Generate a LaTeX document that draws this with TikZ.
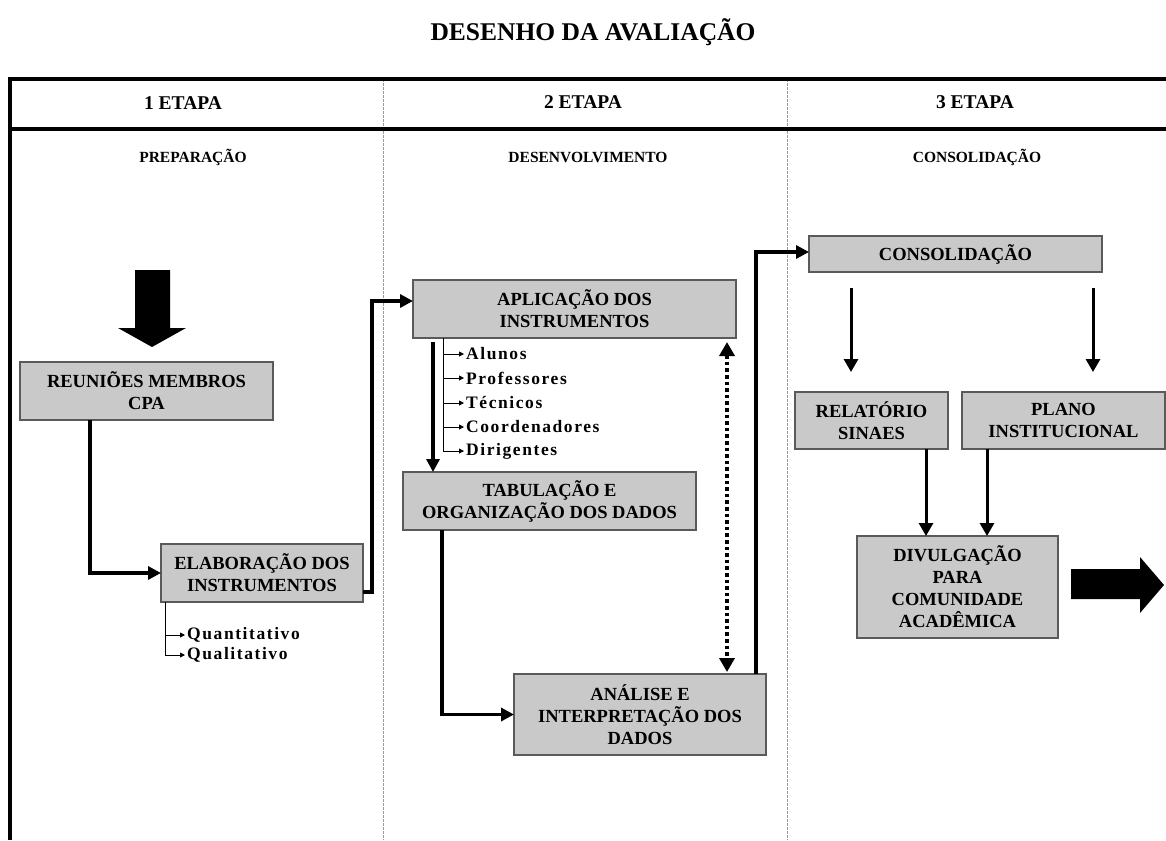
\documentclass[tikz,border=0pt]{standalone}
\usepackage{fontspec}
\setmainfont{Liberation Serif}
\newfontfamily\spacedserif[LetterSpace=9]{Liberation Serif}
\usetikzlibrary{arrows.meta}
\definecolor{boxfill}{HTML}{C9C9C9}
\definecolor{boxline}{HTML}{5A5A5A}
\definecolor{divline}{HTML}{9A9A9A}
\tikzset{
  procbox/.style={draw=boxline, line width=1.4pt, fill=boxfill, inner sep=0pt, outer sep=0pt, align=center,
    font=\fontsize{18.5}{22}\selectfont\bfseries},
  conn/.style={line width=3.8pt, -{Triangle[length=13pt,width=13pt]}},
  conn2/.style={line width=3pt, -{Triangle[length=13pt,width=14pt]}},
  subconn/.style={line width=0.9pt, -{Triangle[length=5pt,width=5pt]}},
  sublabel/.style={anchor=west, inner sep=0pt, font=\spacedserif\fontsize{17.5}{20}\selectfont\bfseries},
  headlabel/.style={font=\fontsize{19.5}{22}\selectfont\bfseries},
  phaselabel/.style={font=\fontsize{15.5}{18}\selectfont\bfseries},
  frame/.style={line width=3.6pt},
  divider/.style={line width=0.8pt, divline, dash pattern=on 3pt off 1pt},
}
\begin{document}
\begin{tikzpicture}[x=1pt,y=-1pt]
\useasboundingbox (0,0) rectangle (1166,840);

% title
\node[font=\fontsize{25.5}{28}\selectfont\bfseries] (title) at (593,32) {DESENHO DA AVALIAÇÃO};

% frame
\draw[divider] (383,79) -- (383,840);
\draw[divider] (787,79) -- (787,840);
\draw[frame] (1166,79) -- (10,79) -- (10,840);
\draw[frame] (10,129) -- (1166,129);

% headers
\node[headlabel] (h1) at (183,103) {1 ETAPA};
\node[headlabel] (h2) at (583,102) {2 ETAPA};
\node[headlabel] (h3) at (975,102) {3 ETAPA};
\node[phaselabel] (p1) at (193,157) {PREPARAÇÃO};
\node[phaselabel] (p2) at (588,157) {DESENVOLVIMENTO};
\node[phaselabel] (p3) at (977,157) {CONSOLIDAÇÃO};

% big down arrow
\fill (135,270) -- (170,270) -- (170,328) -- (186,328) -- (152,347) -- (118,328) -- (135,328) -- cycle;

% boxes
\node[procbox, minimum width=253pt, minimum height=58pt] (reu) at (146.5,391) {REUNIÕES MEMBROS\\CPA};
\node[procbox, minimum width=202pt, minimum height=58pt] (ela) at (262,573) {ELABORAÇÃO DOS\\INSTRUMENTOS};
\node[procbox, minimum width=323pt, minimum height=58pt] (apl) at (574.5,309) {APLICAÇÃO DOS\\INSTRUMENTOS};
\node[procbox, minimum width=293pt, minimum height=58pt] (tab) at (549.5,501) {TABULAÇÃO E\\ORGANIZAÇÃO DOS DADOS};
\node[procbox, minimum width=252pt, minimum height=81pt] (ana) at (640,714.5) {ANÁLISE E\\INTERPRETAÇÃO DOS\\DADOS};
\node[procbox, minimum width=293pt, minimum height=36pt] (con) at (955.5,254) {CONSOLIDAÇÃO};
\node[procbox, minimum width=153pt, minimum height=57pt] (rel) at (871.5,420.5) {RELATÓRIO\\SINAES};
\node[procbox, minimum width=203pt, minimum height=57pt] (pla) at (1063.5,420.5) {PLANO\\INSTITUCIONAL};
\node[procbox, minimum width=201pt, minimum height=102pt] (div) at (957.5,587) {DIVULGAÇÃO\\PARA\\COMUNIDADE\\ACADÊMICA};

% sub labels
\node[sublabel] (qua) at (187,635) {Quantitativo};
\node[sublabel] (qual) at (187,655) {Qualitativo};
\node[sublabel] (alu) at (466,354) {Alunos};
\node[sublabel] (pro) at (466,378) {Professores};
\node[sublabel] (tec) at (466,403) {Técnicos};
\node[sublabel] (coo) at (466,427) {Coordenadores};
\node[sublabel] (dir) at (466,451) {Dirigentes};

% connector start points
\coordinate (aplA) at ([xshift=20pt]apl.south west);
\coordinate (aplD) at ([xshift=314pt]apl.south west);
\coordinate (tabA) at ([xshift=39pt]tab.south west);
\coordinate (anaA) at ([xshift=242pt]ana.north west);
\coordinate (conL) at ([xshift=42pt]con.south west);
\coordinate (conR) at ([xshift=-9pt]con.south east);
\coordinate (relA) at ([xshift=131pt]rel.south west);
\coordinate (plaA) at ([xshift=25pt]pla.south west);

% connectors
\draw[conn] ([xshift=70pt]reu.south west) |- (ela.west);
\draw[conn] ([yshift=-19pt]ela.east) -- ++(9,0) |- ([yshift=8pt]apl.west);
\draw[conn, shorten <=4pt] (aplA) -- (aplA |- tab.north);
\draw[conn] (tabA) |- (ana.west);
\draw[line width=3.6pt, dash pattern=on 3.6pt off 3pt, shorten <=4pt, shorten >=2pt,
  {Triangle[length=14pt,width=15pt]}-{Triangle[length=14pt,width=15pt]}]
  (aplD) -- (aplD |- ana.north);
\draw[conn] (anaA) |- ([yshift=2pt]con.west);
\draw[conn2, shorten <=16pt, shorten >=20pt] (conL) -- (conL |- rel.north);
\draw[conn2, shorten <=16pt, shorten >=20pt] (conR) -- (conR |- pla.north);
\draw[conn2] (relA) -- (relA |- div.north);
\draw[conn2] (plaA) -- (plaA |- div.north);

% sub connectors
\draw[subconn] ([xshift=4pt]ela.south west) |- ([xshift=-2pt]qua.west);
\draw[subconn] ([xshift=4pt]ela.south west) |- ([xshift=-2pt]qual.west);
\draw[subconn] ([xshift=30pt]apl.south west) |- ([xshift=-2pt]alu.west);
\draw[subconn] ([xshift=30pt]apl.south west) |- ([xshift=-2pt]pro.west);
\draw[subconn] ([xshift=30pt]apl.south west) |- ([xshift=-2pt]tec.west);
\draw[subconn] ([xshift=30pt]apl.south west) |- ([xshift=-2pt]coo.west);
\draw[subconn] ([xshift=30pt]apl.south west) |- ([xshift=-2pt]dir.west);

% big right arrow
\fill (1071,569) -- (1140,569) -- (1140,557) -- (1164,585) -- (1140,613) -- (1140,599) -- (1071,599) -- cycle;
\end{tikzpicture}
\end{document}
